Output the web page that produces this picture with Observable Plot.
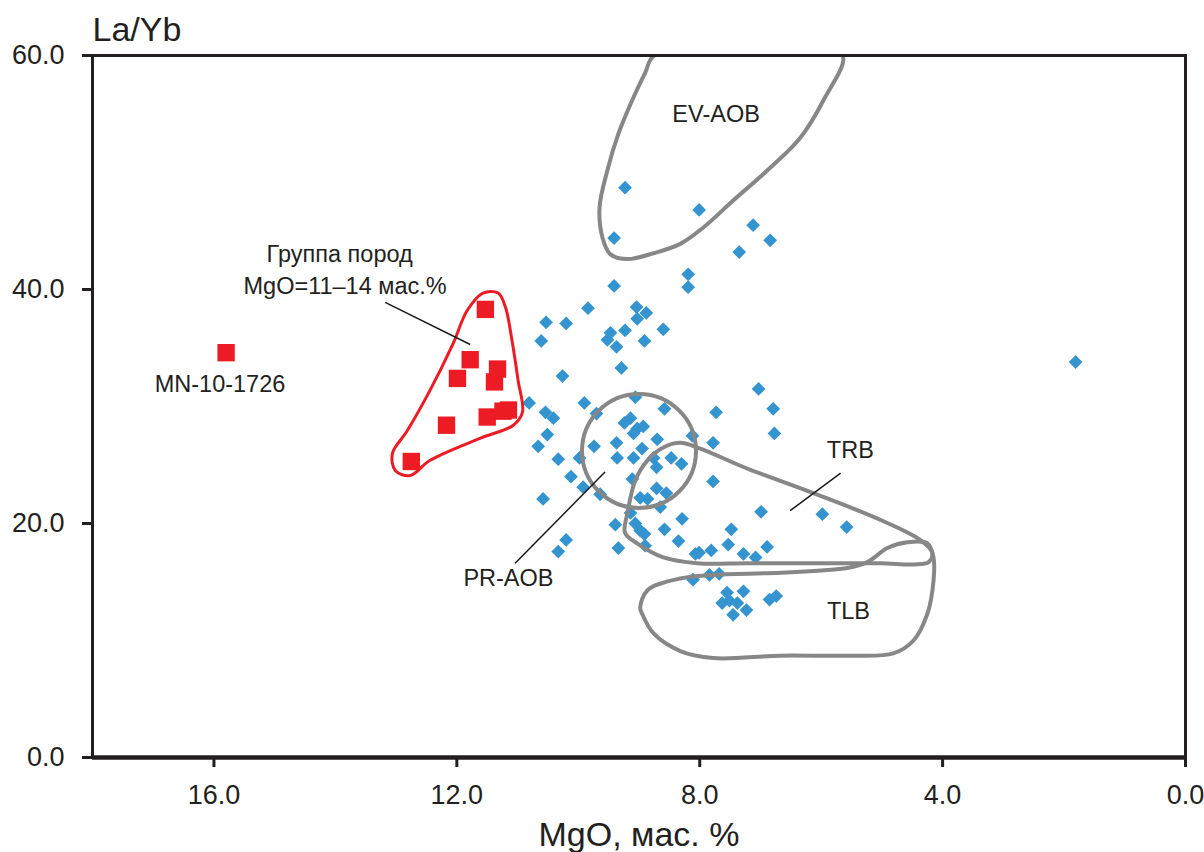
<!DOCTYPE html>
<html>
<head>
<meta charset="utf-8">
<script src="https://cdn.jsdelivr.net/npm/d3@7"></script>
<script src="https://cdn.jsdelivr.net/npm/@observablehq/plot@0.6"></script>
<style>
  html, body { margin: 0; padding: 0; background: #fff; }
  #chart svg { font-family: "Liberation Sans", Arial, sans-serif; display: block; }
</style>
</head>
<body>
<div id="chart"></div>
<script>
// Basalt samples: [MgO wt.%, La/Yb]
const basalts = [
  [9.23, 48.7], [8.01, 46.8], [9.41, 44.4], [7.12, 45.5], [6.84, 44.2], [7.35, 43.2],
  [8.19, 41.3], [8.19, 40.2], [9.41, 40.3], [9.84, 38.4], [10.53, 37.2], [10.20, 37.1],
  [10.61, 35.6], [9.04, 38.5], [8.88, 38.0], [9.03, 37.5], [8.60, 36.6], [9.23, 36.5],
  [9.47, 36.3], [9.52, 35.7], [9.37, 35.1], [8.91, 35.6], [9.29, 33.3], [10.26, 32.6],
  [10.81, 30.3], [9.90, 30.3], [9.06, 30.8], [8.58, 29.8], [10.54, 29.5], [10.41, 29.0],
  [9.70, 29.4], [9.24, 28.6], [9.14, 29.0], [9.03, 28.1], [8.93, 28.3], [9.09, 27.7],
  [10.51, 27.6], [10.66, 26.6], [9.74, 26.6], [9.37, 26.9], [9.36, 25.6], [8.95, 26.4],
  [8.70, 27.2], [8.12, 27.5], [10.33, 25.5], [9.98, 25.6], [9.09, 25.6], [8.76, 25.6],
  [8.47, 25.6], [8.30, 25.1], [8.71, 24.8], [10.12, 24.0], [9.11, 23.8], [9.92, 23.1],
  [9.64, 22.5], [8.71, 23.0], [8.55, 22.6], [8.98, 22.2], [8.86, 22.1], [10.58, 22.1],
  [8.65, 21.4], [9.14, 20.9], [8.29, 20.4], [9.39, 19.9], [9.06, 20.0], [8.98, 19.4],
  [8.91, 19.1], [8.58, 19.5], [8.35, 18.5], [9.34, 17.9], [8.90, 18.1], [10.20, 18.6],
  [10.33, 17.6], [8.07, 17.4], [7.03, 31.5], [7.73, 29.5], [6.79, 29.8], [6.77, 27.7],
  [7.78, 26.9], [7.78, 23.6], [6.99, 21.0], [5.98, 20.8], [5.58, 19.7], [7.48, 19.5],
  [7.53, 18.2], [6.89, 18.0], [7.81, 17.7], [8.01, 17.5], [7.28, 17.4], [7.08, 17.1],
  [8.11, 15.2], [7.84, 15.6], [7.68, 15.7], [7.55, 14.1], [7.28, 14.2], [7.63, 13.2],
  [7.51, 13.4], [7.38, 13.2], [7.45, 12.2], [7.23, 12.6], [6.85, 13.5], [6.74, 13.8],
  [1.81, 33.8]
];

// Rocks with MgO = 11–14 wt.% and sample MN-10-1726
const highMgRocks = [
  [11.53, 38.3], [11.78, 34.0], [11.99, 32.4], [11.33, 33.2], [11.38, 32.1],
  [11.24, 29.6], [11.15, 29.7], [11.50, 29.1], [12.17, 28.4], [12.75, 25.3]
];
const sampleMN = [[15.80, 34.6]];

// Reference fields (outline vertices)
const evAobField = [
  [8.75, 60.0], [8.90, 58.5], [9.11, 56.2], [9.34, 53.3], [9.52, 50.2], [9.65, 47.0],
  [9.60, 44.4], [9.47, 43.0], [9.19, 42.6], [8.76, 43.1], [8.32, 43.9], [7.94, 45.3],
  [7.45, 47.6], [6.84, 50.4], [6.34, 53.0], [5.96, 56.2], [5.65, 60.0], [6.60, 60.2],
  [7.80, 60.2]
];
const trbField = [
  [8.32, 26.9], [7.99, 26.4], [7.22, 24.7], [6.13, 22.6], [5.02, 20.3], [4.37, 18.6],
  [4.17, 17.5], [4.23, 16.7], [4.48, 16.5], [5.02, 16.6], [6.13, 16.6], [7.22, 16.6],
  [8.04, 16.6], [8.60, 17.1], [9.03, 18.3], [9.23, 19.2], [9.19, 20.9], [9.06, 23.7],
  [8.86, 25.4], [8.60, 26.5]
];
const tlbField = [
  [8.98, 12.8], [8.86, 14.3], [8.32, 15.3], [7.78, 15.6], [6.67, 15.8], [5.57, 16.2],
  [5.24, 16.7], [4.91, 17.9], [4.58, 18.4], [4.25, 18.3], [4.15, 17.1], [4.15, 15.1],
  [4.25, 12.3], [4.48, 10.0], [4.81, 8.9], [5.57, 8.7], [6.67, 8.7], [7.78, 8.5],
  [8.32, 9.1], [8.76, 10.6], [8.95, 12.3]
];
const prAobCenter = [[9.0, 26.2]];
const highMgField = [
  [11.57, 39.7], [11.32, 39.7], [11.20, 38.5], [11.09, 35.6], [10.99, 32.2], [10.92, 29.5],
  [11.07, 28.4], [11.61, 27.3], [12.44, 25.4], [12.77, 24.1], [13.01, 24.5], [13.06, 26.0],
  [12.82, 27.9], [12.44, 31.4], [12.06, 35.4], [11.83, 38.2]
];

// Labels and leader lines
const fieldLabels = [
  {x: 7.73, y: 55.0, text: "EV-AOB"},
  {x: 5.52, y: 26.2, text: "TRB"},
  {x: 5.55, y: 12.5, text: "TLB"},
  {x: 11.15, y: 15.3, text: "PR-AOB"},
  {x: 15.90, y: 31.9, text: "MN-10-1726"},
  {x: 13.93, y: 43.0, text: "Группа пород"},
  {x: 13.84, y: 40.3, text: "MgO=11–14 мас.%"}
];
const leaders = [
  {x1: 5.68, y1: 24.3, x2: 6.51, y2: 21.1},
  {x1: 11.04, y1: 16.6, x2: 9.56, y2: 24.4},
  {x1: 13.18, y1: 38.9, x2: 11.78, y2: 35.3}
];

const xTicks = [16, 12, 8, 4, 0];
const yTicks = [0, 20, 40, 60];

const fieldGray = "#878787";
const ink = "#231f20";
const px = d => d[0], py = d => d[1];

const chart = Plot.plot({
  width: 1204,
  height: 852,
  marginLeft: 92,
  marginRight: 19,
  marginTop: 55,
  marginBottom: 95,
  x: {domain: [18, 0], label: null},
  y: {domain: [0, 60], label: null},
  marks: [
    Plot.dot(basalts, {x: px, y: py, symbol: "diamond2", r: 6.2, fill: "#3494cf", stroke: "none"}),
    Plot.line(evAobField, {x: px, y: py, curve: "catmull-rom-closed", stroke: fieldGray, strokeWidth: 4, clip: true}),
    Plot.line(trbField, {x: px, y: py, curve: "catmull-rom-closed", stroke: fieldGray, strokeWidth: 4}),
    Plot.line(tlbField, {x: px, y: py, curve: "catmull-rom-closed", stroke: fieldGray, strokeWidth: 4}),
    Plot.dot(prAobCenter, {x: px, y: py, r: 57, fill: "none", stroke: fieldGray, strokeWidth: 4}),
    Plot.line(highMgField, {x: px, y: py, curve: "catmull-rom-closed", stroke: "#ed1c24", strokeWidth: 3}),
    Plot.dot(highMgRocks, {x: px, y: py, symbol: "square", r: 9.8, fill: "#ed1c24", stroke: "none"}),
    Plot.dot(sampleMN, {x: px, y: py, symbol: "square", r: 9.8, fill: "#ed1c24", stroke: "none"}),
    Plot.link(leaders, {x1: "x1", y1: "y1", x2: "x2", y2: "y2", stroke: "#1a1a1a", strokeWidth: 1.5}),
    Plot.text(fieldLabels, {x: "x", y: "y", text: "text", fontSize: 23.5, fill: ink}),
    Plot.frame({stroke: ink, strokeWidth: 3}),
    Plot.ruleY([0], {stroke: ink, strokeWidth: 4.5}),
    Plot.axisY({ticks: yTicks, tickFormat: d => d.toFixed(1), tickSize: 10, tickPadding: 18,
      fontSize: 27, strokeWidth: 3, stroke: ink, color: ink, label: null}),
    Plot.axisX({ticks: xTicks, tickFormat: d => d.toFixed(1), tickSize: 10, tickPadding: 17,
      fontSize: 27, strokeWidth: 3, stroke: ink, color: ink, label: null}),
    Plot.text(["La/Yb"], {frameAnchor: "top-left", lineAnchor: "middle", dy: -25, textAnchor: "start", fontSize: 34, fill: ink}),
    Plot.text(["MgO, мас. %"], {frameAnchor: "bottom", lineAnchor: "middle", dy: 78, fontSize: 34, fill: ink})
  ]
});

document.getElementById("chart").appendChild(chart);
</script>
</body>
</html>
